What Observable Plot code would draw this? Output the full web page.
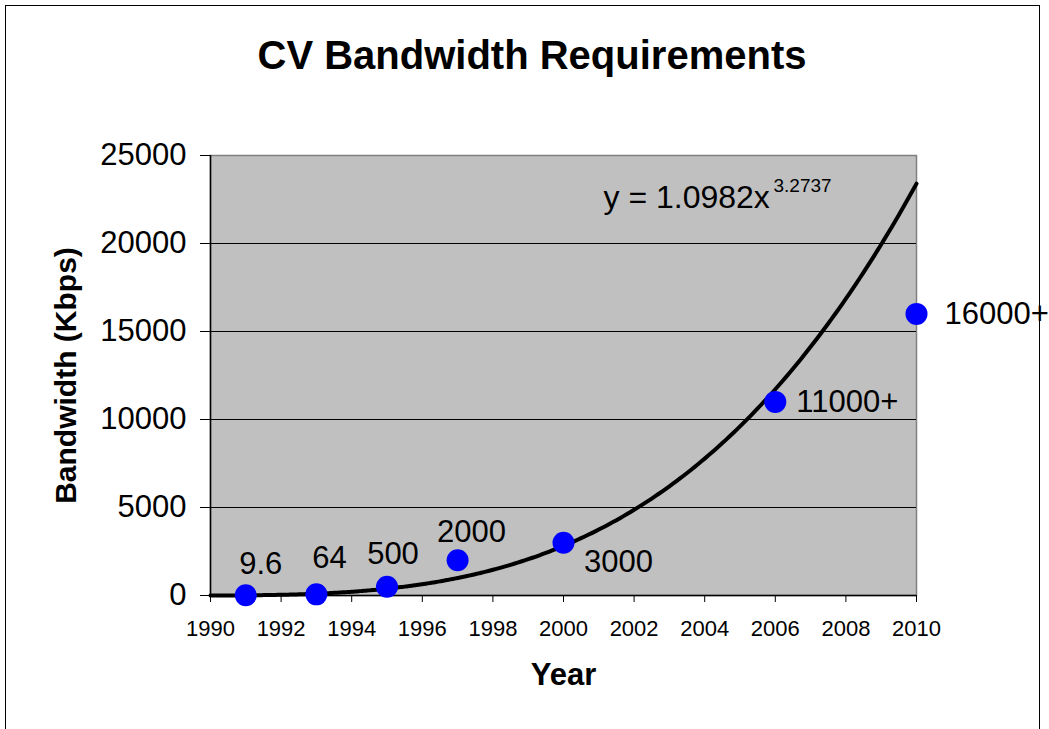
<!DOCTYPE html>
<html>
<head>
<meta charset="utf-8">
<script src="https://cdn.jsdelivr.net/npm/d3@7"></script>
<script src="https://cdn.jsdelivr.net/npm/@observablehq/plot@0.6"></script>
<style>
  html, body { margin: 0; padding: 0; background: #fff; overflow: hidden; }
  #wrap { position: relative; width: 1049px; height: 729px; font-family: "Liberation Sans", Arial, sans-serif; }
  #border { position: absolute; left: 5px; top: 5px; width: 1035px; height: 800px; border: 1.5px solid #000; box-sizing: border-box; }
  #title { position: relative; height: 100px; }
  #title span { position: absolute; left: 0; width: 1064px; top: 35px; line-height: 40px; font-size: 40px; font-weight: bold; text-align: center; color: #000; }
  #chart { position: relative; }
</style>
</head>
<body>
<div id="wrap">
  <div id="border"></div>
  <div id="title"><span>CV Bandwidth Requirements</span></div>
  <div id="chart"></div>
</div>
<script>
// ---- data ----
const years = [1991, 1993, 1995, 1997, 2000, 2006, 2010];
const bandwidth = [9.6, 64, 500, 2000, 3000, 11000, 16000];
const pointLabels = ["9.6", "64", "500", "2000", "3000", "11000+", "16000+"];
const xTicks = [1990, 1992, 1994, 1996, 1998, 2000, 2002, 2004, 2006, 2008, 2010];
const yTicks = [0, 5000, 10000, 15000, 20000, 25000];
const trendA = 1.0982;   // power trendline coefficient (as shown on chart)
const trendB = 3.2737;   // power trendline exponent
const trendOrigin = 1989; // trendline x = year - 1989
const titleText = "CV Bandwidth Requirements";
const xLabel = "Year";
const yLabel = "Bandwidth (Kbps)";

// ---- derived tables ----
const points = years.map((y, i) => ({year: y, value: bandwidth[i], label: pointLabels[i]}));
const trend = d3.range(0, 201).map(k => {
  const yr = xTicks[0] + k * (xTicks[xTicks.length - 1] - xTicks[0]) / 200;
  return {year: yr, value: trendA * Math.pow(yr - trendOrigin, trendB)};
});

// label layout (offsets in px, anchor)
const labelLayout = [
  {dx: 15, dy: -31, anchor: "middle"},
  {dx: 13, dy: -36, anchor: "middle"},
  {dx: 6, dy: -33, anchor: "middle"},
  {dx: 14, dy: -28, anchor: "middle"},
  {dx: 55, dy: 19, anchor: "middle"},
  {dx: 21, dy: 0, anchor: "start"},
  {dx: 28, dy: 0, anchor: "start"}
];

const font = "'Liberation Sans', Arial, sans-serif";

const chart = Plot.plot({
  width: 1049,
  height: 629,
  marginLeft: 210,
  marginRight: 133,
  marginTop: 55,
  marginBottom: 134,
  style: {fontFamily: font, background: "transparent", overflow: "visible", color: "#000"},
  x: {domain: [xTicks[0], xTicks[xTicks.length - 1]]},
  y: {domain: [yTicks[0], yTicks[yTicks.length - 1]]},
  marks: [
    Plot.frame({fill: "#C0C0C0", stroke: "#808080", strokeWidth: 1.5}),
    Plot.ruleY(yTicks.filter(v => v > yTicks[0] && v < yTicks[yTicks.length - 1]), {stroke: "#000", strokeWidth: 1}),
    Plot.ruleX([xTicks[0]], {stroke: "#000", strokeWidth: 1.5}),
    Plot.ruleY([yTicks[0]], {stroke: "#000", strokeWidth: 1.5}),
    Plot.axisY({ticks: yTicks, tickSize: 10, tickPadding: 14, fontSize: 31, label: null, tickFormat: d => String(d)}),
    Plot.axisX({ticks: xTicks, tickSize: 7, tickPadding: 18, fontSize: 22, label: null, tickFormat: d => String(d)}),
    Plot.line(trend, {x: "year", y: "value", stroke: "#000", strokeWidth: 4, curve: "natural"}),
    Plot.dot(points, {x: "year", y: "value", r: 11, fill: "#0000FF", stroke: "none"}),
    ...points.map((p, i) => Plot.text([p], {
      x: "year", y: "value", text: "label",
      dx: labelLayout[i].dx, dy: labelLayout[i].dy, textAnchor: labelLayout[i].anchor,
      fontSize: 31, fill: "#000"
    })),
    Plot.text([`y = ${trendA}x`], {frameAnchor: "top-left", dx: 393, dy: 42, textAnchor: "start", lineAnchor: "middle", fontSize: 32, fill: "#000"}),
    Plot.text([`${trendB}`], {frameAnchor: "top-left", dx: 563, dy: 30, textAnchor: "start", lineAnchor: "middle", fontSize: 19, fill: "#000"}),
    Plot.text([yLabel], {frameAnchor: "left", dx: -144, rotate: -90, textAnchor: "middle", lineAnchor: "middle", fontSize: 30, fontWeight: "bold", fill: "#000"}),
    Plot.text([xLabel], {frameAnchor: "bottom", dy: 80, textAnchor: "middle", lineAnchor: "middle", fontSize: 31, fontWeight: "bold", fill: "#000"})
  ]
});
document.getElementById("chart").appendChild(chart);
document.querySelector("#title span").textContent = titleText;
</script>
</body>
</html>
